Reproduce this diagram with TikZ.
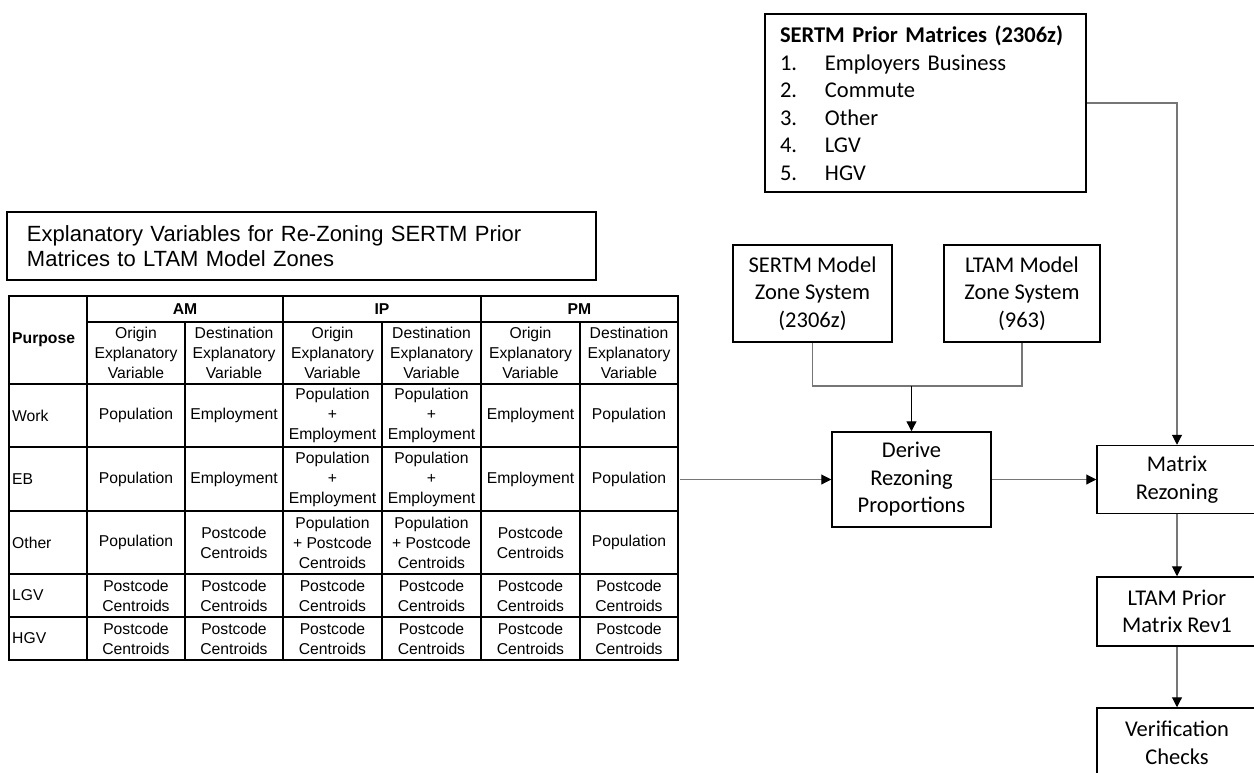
\documentclass[tikz,border=0pt]{standalone}
\usepackage{fontspec}
\setmainfont{Carlito}
\newfontfamily\arialf{Liberation Sans}
\usetikzlibrary{arrows.meta}
\definecolor{connc}{RGB}{118,118,118}
\tikzset{
  box/.style={draw=black, line width=1.5pt, fill=white, align=center, inner sep=0pt,
    font=\fontsize{22.5}{27.5}\selectfont},
  conn/.style={draw=connc, line width=1.1pt},
  arr/.style={-{Triangle[length=10pt,width=10pt,color=black]}},
  cell/.style={align=center, inner sep=0pt, font=\arialf\fontsize{15.7}{20}\selectfont},
  lcell/.style={cell, anchor=west, align=left},
  hcell/.style={cell, font=\arialf\bfseries\fontsize{15.7}{20}\selectfont},
  gridline/.style={line width=2pt, line cap=rect}
}
\begin{document}
\begin{tikzpicture}[x=1pt,y=-1pt]
\useasboundingbox (0,0) rectangle (1254,772);
\fill[white] (0,0) rectangle (1254,772);
\clip (0,0) rectangle (1254,772);

% ---------- title box ----------
\node[draw=black, line width=1.5pt, minimum height=68, text width=549, inner xsep=20, inner ysep=0,
  align=left, font=\arialf\fontsize{22}{24.5}\selectfont] (title) at (301.5,246)
  {\raisebox{-3pt}{Explanatory Variables for Re-Zoning SERTM Prior}\\\raisebox{-3pt}{Matrices to LTAM Model Zones}};

% ---------- table grid ----------
\draw[line width=1.2pt] (9,296) -- (678,296);
\draw[gridline] (87,322) -- (678,322);
\foreach \yy in {384,447,511,574,617,660} \draw[gridline] (9,\yy) -- (678,\yy);
\foreach \xx in {9,87,283,481,678} \draw[gridline] (\xx,296) -- (\xx,660);
\foreach \xx in {185,382,580} \draw[gridline] (\xx,322) -- (\xx,660);

% ---------- table text ----------
\node[hcell, anchor=west] (purpose) at (12,340) {Purpose};
\node[hcell] (am) at (185,309) {AM};
\node[hcell] (ip) at (382,309) {IP};
\node[hcell] (pm) at (579.5,309) {PM};

\node[cell] (h1) at (136,353) {Origin\\Explanatory\\Variable};
\node[cell] (h2) at (234,353) {Destination\\Explanatory\\Variable};
\node[cell] (h3) at (332.5,353) {Origin\\Explanatory\\Variable};
\node[cell] (h4) at (431.5,353) {Destination\\Explanatory\\Variable};
\node[cell] (h5) at (530.5,353) {Origin\\Explanatory\\Variable};
\node[cell] (h6) at (629,353) {Destination\\Explanatory\\Variable};

\node[lcell] (work) at (12,415.5) {Work};
\node[cell] (w1) at (136,415.5) {Population};
\node[cell] (w2) at (234,415.5) {Employment};
\node[cell] (w3) at (332.5,415.5) {Population\\+\\Employment};
\node[cell] (w4) at (431.5,415.5) {Population\\+\\Employment};
\node[cell] (w5) at (530.5,415.5) {Employment};
\node[cell] (w6) at (629,415.5) {Population};

\node[lcell] (eb) at (12,479) {EB};
\node[cell] (e1) at (136,479) {Population};
\node[cell] (e2) at (234,479) {Employment};
\node[cell] (e3) at (332.5,479) {Population\\+\\Employment};
\node[cell] (e4) at (431.5,479) {Population\\+\\Employment};
\node[cell] (e5) at (530.5,479) {Employment};
\node[cell] (e6) at (629,479) {Population};

\node[lcell] (other) at (12,542.5) {Other};
\node[cell] (o1) at (136,542.5) {Population};
\node[cell] (o2) at (234,542.5) {Postcode\\Centroids};
\node[cell] (o3) at (332.5,542.5) {Population\\+ Postcode\\Centroids};
\node[cell] (o4) at (431.5,542.5) {Population\\+ Postcode\\Centroids};
\node[cell] (o5) at (530.5,542.5) {Postcode\\Centroids};
\node[cell] (o6) at (629,542.5) {Population};

\node[lcell] (lgv) at (12,595.5) {LGV};
\node[cell] (l1) at (136,595.5) {Postcode\\Centroids};
\node[cell] (l2) at (234,595.5) {Postcode\\Centroids};
\node[cell] (l3) at (332.5,595.5) {Postcode\\Centroids};
\node[cell] (l4) at (431.5,595.5) {Postcode\\Centroids};
\node[cell] (l5) at (530.5,595.5) {Postcode\\Centroids};
\node[cell] (l6) at (629,595.5) {Postcode\\Centroids};

\node[lcell] (hgv) at (12,638.5) {HGV};
\node[cell] (g1) at (136,638.5) {Postcode\\Centroids};
\node[cell] (g2) at (234,638.5) {Postcode\\Centroids};
\node[cell] (g3) at (332.5,638.5) {Postcode\\Centroids};
\node[cell] (g4) at (431.5,638.5) {Postcode\\Centroids};
\node[cell] (g5) at (530.5,638.5) {Postcode\\Centroids};
\node[cell] (g6) at (629,638.5) {Postcode\\Centroids};

\coordinate (tabR) at (680,479.5);

% ---------- flowchart boxes ----------
\node[box, minimum width=321, minimum height=178, text width=291, inner xsep=15, align=left] (prior) at (925.5,103)
  {\textbf{SERTM Prior Matrices (2306z)}\\
   \makebox[45pt][l]{1.}Employers Business\\
   \makebox[45pt][l]{2.}Commute\\
   \makebox[45pt][l]{3.}Other\\
   \makebox[45pt][l]{4.}LGV\\
   \makebox[45pt][l]{5.}HGV};

\node[box, minimum width=159, minimum height=97] (sertmz) at (812.5,293.5) {SERTM Model\\Zone System\\(2306z)};
\node[box, minimum width=156, minimum height=97] (ltamz) at (1022,293.5) {LTAM Model\\Zone System\\(963)};
\node[box, minimum width=159, minimum height=95] (derive) at (911.5,479.5) {Derive\\Rezoning\\Proportions};
\node[box, minimum width=160, minimum height=68] (matrix) at (1177,479.5) {Matrix\\Rezoning};
\node[box, minimum width=160, minimum height=69] (ltamp) at (1177,611.5) {LTAM Prior\\Matrix Rev1};
\node[box, minimum width=160, minimum height=70] (verif) at (1177,743) {Verification\\Checks};

\coordinate (jn) at (911.5,386);

% ---------- connectors ----------
\draw[conn] (sertmz.south) |- (jn);
\draw[conn] (ltamz.south) |- (jn);
\draw[line width=1.3pt, arr] (jn) -- (derive.north);
\draw[conn, arr] (tabR) -- (derive.west);
\draw[conn, arr] (derive.east) -- (matrix.west);
\draw[conn, arr] (prior.east) -| (matrix.north);
\draw[conn, arr] (matrix.south) -- (ltamp.north);
\draw[conn, arr] (ltamp.south) -- (verif.north);
\end{tikzpicture}
\end{document}
